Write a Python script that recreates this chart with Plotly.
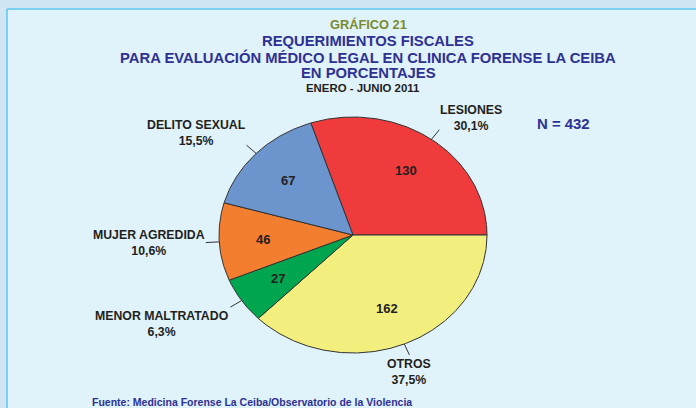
import math
import plotly.graph_objects as go

# ---- data ----
categories = ["LESIONES", "OTROS", "MENOR MALTRATADO", "MUJER AGREDIDA", "DELITO SEXUAL"]
values = [130, 162, 27, 46, 67]
colors = ["#ef3b3c", "#f3ef7e", "#00a54f", "#f47e30", "#6c94cd"]
n_label = "N = 432"
title_lines = ["REQUERIMIENTOS FISCALES",
               "PARA EVALUACIÓN MÉDICO LEGAL EN CLINICA FORENSE LA CEIBA",
               "EN PORCENTAJES"]
chart_number = "GRÁFICO 21"
period = "ENERO - JUNIO 2011"
source = "Fuente: Medicina Forense La Ceiba/Observatorio de la Violencia"

# ---- layout geometry ----
W, H = 696, 408
CX, CY = 353, 235        # pie centre (px)
RX, RY = 134, 118        # pie radii (px)
FONT = "Liberation Sans, Arial, sans-serif"
DARKBLUE = "#2e3192"
EDGE = "#333333"

total = sum(values)
start = 360.0 * values[0] / total  # first slice ends at 3 o'clock, clockwise order

fig = go.Figure()

# background panel
fig.add_shape(type="rect", xref="paper", yref="paper", x0=7 / W, x1=1, y0=0, y1=1 - 9 / H,
              fillcolor="#e0f2fa", line_width=0, layer="below")
fig.add_shape(type="line", xref="paper", yref="paper", x0=7 / W, x1=1, y0=1 - 9 / H, y1=1 - 9 / H,
              line=dict(color="#5cc6ee", width=1.5), layer="below")
fig.add_shape(type="line", xref="paper", yref="paper", x0=7 / W, x1=7 / W, y0=0, y1=1 - 9 / H,
              line=dict(color="#5cc6ee", width=1.5), layer="below")

annotations = []
a0 = start
for cat, val, col in zip(categories, values, colors):
    sweep = 360.0 * val / total
    a1 = a0 - sweep
    steps = max(8, int(sweep * 2))
    xs, ys = [0.0], [0.0]
    for i in range(steps + 1):
        t = math.radians(a0 + (a1 - a0) * i / steps)
        xs.append(math.cos(t))
        ys.append(math.sin(t))
    xs.append(0.0)
    ys.append(0.0)
    fig.add_trace(go.Scatter(x=xs, y=ys, mode="lines", fill="toself", fillcolor=col,
                             line=dict(color=EDGE, width=1), hoverinfo="skip", showlegend=False))
    mid = math.radians((a0 + a1) / 2)
    c, s = math.cos(mid), math.sin(mid)
    # leader line
    fig.add_trace(go.Scatter(x=[c, 1.1 * c], y=[s, 1.1 * s], mode="lines",
                             line=dict(color=EDGE, width=1), hoverinfo="skip", showlegend=False))
    # value inside
    annotations.append(dict(x=0.67 * c, y=0.67 * s, xref="x", yref="y", text=str(val),
                            showarrow=False, font=dict(family=FONT, size=13, color="#231f20", weight="bold")))
    # outside label
    pct = math.floor(val / total * 1000 + 0.5) / 10
    pct_txt = f"{pct:.1f}".replace(".", ",") + "%"
    xa = "center" if abs(c) < 0.5 else ("left" if c > 0 else "right")
    ya = "middle" if abs(s) < 0.5 else ("bottom" if s > 0 else "top")
    ysh = -4 if ya == "bottom" else (-1 if ya == "top" else 0)
    annotations.append(dict(x=1.1 * c, y=1.1 * s, xref="x", yref="y", text=f"{cat}<br>{pct_txt}",
                            showarrow=False, xanchor=xa, yanchor=ya, align="center",
                            borderpad=0, yshift=ysh,
                            font=dict(family=FONT, size=12.3, color="#231f20", weight="bold")))
    a0 = a1


def px_ann(text, x, y, size, color, xanchor="center"):
    return dict(x=x / W, y=1 - y / H, xref="paper", yref="paper", text=text, showarrow=False,
                xanchor=xanchor, yanchor="middle", borderpad=0,
                font=dict(family=FONT, size=size, color=color, weight="bold"))


annotations.append(px_ann(chart_number, 368, 24, 12.8, "#7a8a30"))
for line, yy in zip(title_lines, [41, 57.5, 73]):
    annotations.append(px_ann(line, 368, yy, 14.8, DARKBLUE))
annotations.append(px_ann(period, 363, 88, 11.4, "#231f20"))
annotations.append(px_ann(n_label, 563, 124, 14.9, DARKBLUE))
annotations.append(px_ann(source, 91, 401.5, 10.5, DARKBLUE, xanchor="left"))

fig.update_layout(
    width=W, height=H, margin=dict(l=0, r=0, t=0, b=0),
    paper_bgcolor="#d1e6f5", plot_bgcolor="rgba(0,0,0,0)",
    xaxis=dict(range=[-CX / RX, (W - CX) / RX], visible=False, fixedrange=True),
    yaxis=dict(range=[-(H - CY) / RY, CY / RY], visible=False, fixedrange=True),
    annotations=annotations, showlegend=False,
)

fig.write_html("out.html", config={"displayModeBar": False},
               post_script="document.body.style.margin='0';document.body.style.overflow='hidden';")
